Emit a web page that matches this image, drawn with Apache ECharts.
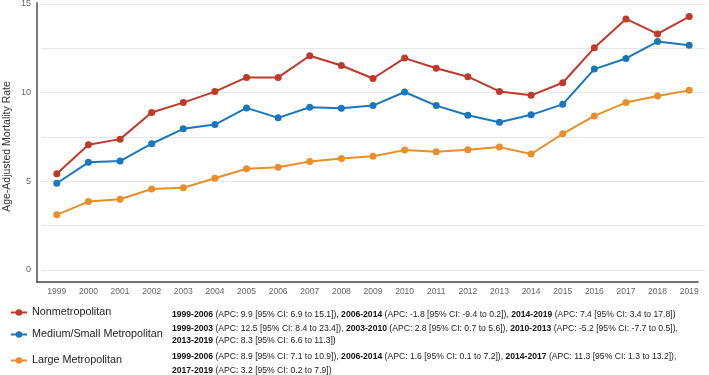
<!DOCTYPE html>
<html>
<head>
<meta charset="utf-8">
<script src="https://cdn.jsdelivr.net/npm/echarts@6/dist/echarts.min.js"></script>
<style>
html, body { margin: 0; padding: 0; background: #fff; }
#main { width: 709px; height: 375px; }
</style>
</head>
<body>
<div id="main"></div>
<script>
var years = ['1999', '2000', '2001', '2002', '2003', '2004', '2005', '2006', '2007', '2008', '2009',
             '2010', '2011', '2012', '2013', '2014', '2015', '2016', '2017', '2018', '2019'];
var nonMetro = [5.43, 7.06, 7.38, 8.88, 9.44, 10.06, 10.86, 10.86, 12.08, 11.53, 10.80,
                11.95, 11.38, 10.90, 10.07, 9.85, 10.56, 12.53, 14.16, 13.31, 14.29];
var mediumSmall = [4.89, 6.07, 6.14, 7.12, 7.96, 8.20, 9.14, 8.58, 9.18, 9.12, 9.27,
                   10.04, 9.27, 8.73, 8.33, 8.75, 9.34, 11.33, 11.93, 12.88, 12.68];
var largeMetro = [3.11, 3.86, 3.99, 4.57, 4.64, 5.17, 5.71, 5.79, 6.12, 6.29, 6.42,
                  6.76, 6.67, 6.78, 6.93, 6.54, 7.68, 8.69, 9.44, 9.81, 10.13];
var seriesNames = ['Nonmetropolitan', 'Medium/Small Metropolitan', 'Large Metropolitan'];
var seriesColors = ['#c0392b', '#1a76be', '#e88e2a'];
var yTicks = [0, 5, 10, 15];

// joinpoint segments shown to the right of each legend entry
var apcText = [
    '{b|1999-2006} (APC: 9.9 [95% CI: 6.9 to 15.1]), {b|2006-2014} (APC: -1.8 [95% CI: -9.4 to 0.2]), {b|2014-2019} (APC: 7.4 [95% CI: 3.4 to 17.8])',
    '{b|1999-2003} (APC: 12.5 [95% CI: 8.4 to 23.4]), {b|2003-2010} (APC: 2.8 [95% CI: 0.7 to 5.6]), {b|2010-2013} (APC: -5.2 [95% CI: -7.7 to 0.5]),\n{b|2013-2019} (APC: 8.3 [95% CI: 6.6 to 11.3])',
    '{b|1999-2006} (APC: 8.9 [95% CI: 7.1 to 10.9]), {b|2006-2014} (APC: 1.6 [95% CI: 0.1 to 7.2]), {b|2014-2017} (APC: 11.3 [95% CI: 1.3 to 13.2]),\n{b|2017-2019} (APC: 3.2 [95% CI: 0.2 to 7.9])'
];

var font = 'Liberation Sans, Arial, sans-serif';
var legendTops = [302, 324, 350];
var apcTops = [303, 317, 345];
var apcLineHeights = [13, 12.5, 14];
var seriesData = [nonMetro, mediumSmall, largeMetro];

var chart = echarts.init(document.getElementById('main'));

var option = {
    animation: false,
    textStyle: { fontFamily: font },
    grid: [
        { left: 41, right: 4, top: 4, bottom: 105, outerBoundsMode: 'none' },   // data
        { left: 37, right: 11, top: 3, bottom: 93, outerBoundsMode: 'none' }    // axis frame
    ],
    xAxis: [
        {
            type: 'category', gridIndex: 0, data: years, boundaryGap: true,
            offset: 12,
            axisLine: { show: false },
            axisTick: { show: false },
            axisLabel: { color: '#666', fontSize: 8.5, margin: 5, interval: 0, fontFamily: font }
        },
        {
            type: 'value', gridIndex: 1, min: 0, max: 1,
            axisLine: { show: true, lineStyle: { color: '#444', width: 1.5 } },
            axisTick: { show: false }, axisLabel: { show: false }, splitLine: { show: false }
        }
    ],
    yAxis: [
        {
            type: 'value', gridIndex: 0, min: 0, max: 15, interval: 2.5, offset: 4,
            axisLine: { show: false },
            axisTick: { show: false },
            axisLabel: {
                color: '#666', fontSize: 9, margin: 6, fontFamily: font,
                formatter: function (v) { return yTicks.indexOf(v) >= 0 ? String(v) : ''; }
            },
            splitLine: { lineStyle: { color: '#e8e8e8', width: 1 } }
        },
        {
            type: 'value', gridIndex: 1, min: 0, max: 1,
            name: 'Age-Adjusted Mortality Rate', nameLocation: 'middle', nameGap: 24,
            nameTextStyle: { color: '#333', fontSize: 10.5, fontFamily: font, padding: [0, 8, 0, 0] },
            axisLine: { show: true, lineStyle: { color: '#7a7a7a', width: 2 } },
            axisTick: { show: false }, axisLabel: { show: false }, splitLine: { show: false }
        }
    ],
    legend: seriesNames.map(function (name, i) {
        return {
            data: [name], left: 5, top: legendTops[i],
            itemWidth: 16, itemHeight: 8,
            textStyle: { color: '#222', fontSize: 10.8, fontFamily: font },
            selectedMode: false
        };
    }),
    title: apcText.map(function (txt, i) {
        return {
            text: txt, left: 167, top: apcTops[i],
            textStyle: {
                color: '#222', fontSize: 8.6, fontWeight: 'normal', lineHeight: apcLineHeights[i], fontFamily: font,
                rich: { b: { fontWeight: 'bold', fontSize: 8.6, color: '#111', lineHeight: apcLineHeights[i], fontFamily: font } }
            }
        };
    }),
    series: seriesNames.map(function (name, i) {
        return {
            name: name, type: 'line', xAxisIndex: 0, yAxisIndex: 0,
            data: seriesData[i],
            color: seriesColors[i],
            symbol: 'circle', symbolSize: 7,
            lineStyle: { width: 2 },
            itemStyle: { color: seriesColors[i] },
            z: 10 - i
        };
    })
};

chart.setOption(option);
</script>
</body>
</html>
